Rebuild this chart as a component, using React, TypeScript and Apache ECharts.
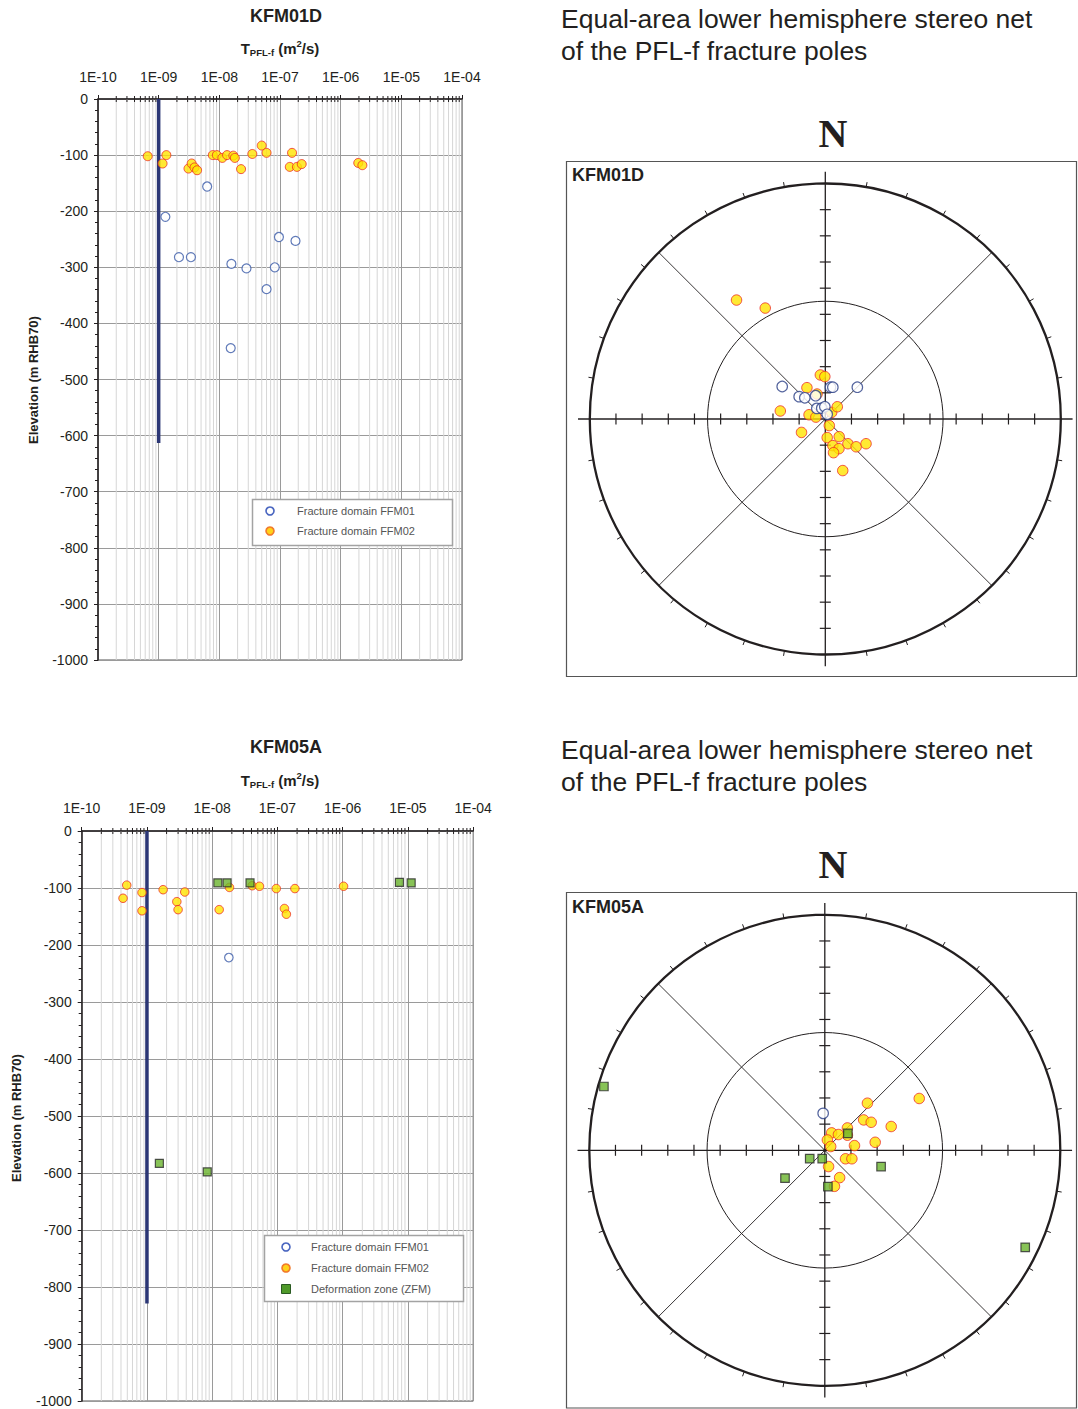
import React, { useEffect, useRef } from 'react';
import * as echarts from 'echarts';

const FONT = '"Liberation Sans", Arial, Helvetica, sans-serif';
const SERIF = '"Liberation Serif", "Times New Roman", serif';
const INK = '#231f20';

// ---------- Transmissivity (m2/s) vs elevation (m RHB70) ----------
const xTickLabels = ['1E-10', '1E-09', '1E-08', '1E-07', '1E-06', '1E-05', '1E-04'];

const kfm01dFFM01: [number, number][] = [
  [6.3e-9, -156], [1.29e-9, -210], [2.16e-9, -282], [3.4e-9, -282], [1.58e-8, -294],
  [2.8e-8, -302], [8.2e-8, -300], [9.6e-8, -246], [1.8e-7, -253], [6.0e-8, -339], [1.54e-8, -444],
];
const kfm01dFFM02: [number, number][] = [
  [6.6e-10, -102], [1.16e-9, -115], [1.34e-9, -100], [3.1e-9, -124], [3.5e-9, -115],
  [3.9e-9, -122], [4.3e-9, -127], [7.8e-9, -100], [9.1e-9, -100], [1.12e-8, -105],
  [1.34e-8, -100], [1.7e-8, -101], [1.8e-8, -105], [2.28e-8, -125], [3.5e-8, -98],
  [5.0e-8, -83], [6.0e-8, -96], [1.58e-7, -96], [1.45e-7, -121], [1.9e-7, -121],
  [2.28e-7, -116], [1.95e-6, -114], [2.28e-6, -118],
];
const kfm01dLimit: [number, number][] = [[1e-9, 0], [1e-9, -613]];

const kfm05aFFM01: [number, number][] = [[1.8e-8, -222]];
const kfm05aFFM02: [number, number][] = [
  [4.9e-10, -95], [4.3e-10, -118], [8.4e-10, -108], [8.4e-10, -140], [1.77e-9, -103],
  [2.87e-9, -124], [3.0e-9, -138], [3.8e-9, -107], [1.28e-8, -138], [1.84e-8, -99],
  [4.1e-8, -96], [5.3e-8, -97], [9.6e-8, -101], [1.28e-7, -136], [1.37e-7, -146],
  [1.85e-7, -101], [1.03e-6, -97],
];
const kfm05aZFM: [number, number][] = [
  [1.22e-8, -91], [1.69e-8, -91], [3.8e-8, -91], [7.4e-6, -90], [1.12e-5, -91],
  [1.55e-9, -583], [8.4e-9, -598],
];
const kfm05aLimit: [number, number][] = [[1e-9, 0], [1e-9, -829]];

// ---------- Stereonet poles (east, north) in units of the primitive radius ----------
const netKFM01D_FFM01: [number, number][] = [
  [-0.183, 0.138], [-0.111, 0.095], [-0.087, 0.090], [-0.041, 0.099], [0.022, 0.135],
  [0.032, 0.135], [0.136, 0.135], [-0.036, 0.045], [-0.015, 0.046], [-0.002, 0.052], [0.008, 0.020],
];
const netKFM01D_FFM02: [number, number][] = [
  [-0.377, 0.505], [-0.255, 0.471], [-0.021, 0.187], [-0.002, 0.180], [-0.078, 0.133],
  [-0.035, 0.106], [-0.191, 0.034], [-0.069, 0.018], [-0.040, 0.008], [0.027, 0.028],
  [0.051, 0.052], [0.017, -0.028], [-0.101, -0.057], [0.008, -0.079], [0.059, -0.075],
  [0.032, -0.113], [0.058, -0.126], [0.035, -0.143], [0.096, -0.105], [0.131, -0.118],
  [0.173, -0.105], [0.074, -0.219],
];
const netKFM05A_FFM01: [number, number][] = [[-0.007, 0.157]];
const netKFM05A_FFM02: [number, number][] = [
  [0.401, 0.220], [0.181, 0.200], [0.165, 0.129], [0.197, 0.119], [0.282, 0.101],
  [0.096, 0.095], [0.096, 0.064], [0.029, 0.074], [0.058, 0.067], [0.011, 0.044],
  [0.025, 0.016], [0.126, 0.020], [0.214, 0.034], [0.088, -0.036], [0.115, -0.036],
  [0.016, -0.069], [0.063, -0.116], [0.041, -0.153],
];
const netKFM05A_ZFM: [number, number][] = [
  [-0.938, 0.271], [0.851, -0.412], [0.098, 0.072], [-0.064, -0.035], [-0.011, -0.035],
  [-0.169, -0.118], [0.239, -0.069], [0.013, -0.154],
];

const legendNames = ['Fracture domain FFM01', 'Fracture domain FFM02', 'Deformation zone (ZFM)'];

// minor log grid values (2..9 x 10^n)
const minorVals: number[] = [];
for (let e = -10; e < -4; e++) for (let m = 2; m <= 9; m++) minorVals.push(m * Math.pow(10, e));

const ORANGE = { color: '#ffe400', borderColor: '#ec2d27', borderWidth: 1 };
const BLUE_LEFT = { color: '#ffffff', borderColor: '#3a5aa8', borderWidth: 1.2 };
const BLUE_NET = { color: '#ffffff', borderColor: '#2b3f86', borderWidth: 1.2 };
const GREEN = { color: '#6ab42d', borderColor: '#2a2a2a', borderWidth: 1.2 };

const NET_EXT = 1.06;

function logAxes(i: number, margin: number) {
  const xAxis = {
    type: 'log', logBase: 10, gridIndex: i, min: 1e-10, max: 1e-4, position: 'top',
    axisLine: { show: true, onZero: false, lineStyle: { color: INK, width: 1.5 } },
    axisTick: { show: true, length: 4, lineStyle: { color: INK } },
    axisLabel: {
      margin, fontSize: 14, color: INK, fontFamily: FONT,
      formatter: (v: number) => xTickLabels[Math.round(Math.log10(v)) + 10] || '',
    },
    splitLine: { show: true, lineStyle: { color: '#9a9a9a', width: 1 } },
  };
  const yAxis = {
    type: 'value', gridIndex: i, min: -1000, max: 0, interval: 100,
    axisLine: { show: true, onZero: false, lineStyle: { color: INK, width: 1.5 } },
    axisTick: { show: true, length: 4, lineStyle: { color: INK } },
    minorTick: { show: true, splitNumber: 5, length: 3, lineStyle: { color: INK } },
    axisLabel: { margin: 10, fontSize: 14, lineHeight: 13, color: INK, fontFamily: FONT, formatter: (v: number) => String(Math.round(v)) },
    splitLine: { show: true, lineStyle: { color: '#9a9a9a', width: 1 } },
  };
  return { xAxis, yAxis };
}

function netAxes(i: number) {
  return {
    xAxis: { type: 'value', gridIndex: i, min: -NET_EXT, max: NET_EXT, show: false },
    yAxis: { type: 'value', gridIndex: i, min: -NET_EXT, max: NET_EXT, show: false },
  };
}

function minorGridSeries(i: number) {
  return {
    type: 'custom', xAxisIndex: i, yAxisIndex: i, z: 1, silent: true, clip: false,
    data: minorVals.map((v) => [v, 0]),
    renderItem: (_p: any, api: any) => {
      const v = api.value(0);
      const top = api.coord([v, 0]);
      const bot = api.coord([v, -1000]);
      return {
        type: 'group',
        children: [
          { type: 'line', shape: { x1: top[0], y1: top[1], x2: bot[0], y2: bot[1] }, style: { stroke: '#d6d6d6', lineWidth: 1 } },
          { type: 'line', shape: { x1: top[0], y1: top[1] - 3, x2: top[0], y2: top[1] + 3 }, style: { stroke: INK, lineWidth: 1 } },
        ],
      };
    },
  };
}

function netSeries(i: number) {
  return {
    type: 'custom', xAxisIndex: i, yAxisIndex: i, z: 1, silent: true, clip: false,
    data: [[0, 0]],
    renderItem: (_p: any, api: any) => {
      const c = api.coord([0, 0]);
      const e = api.coord([1, 0]);
      const r = e[0] - c[0];
      const cx = c[0];
      const cy = c[1];
      const ch: any[] = [];
      const ln = (x1: number, y1: number, x2: number, y2: number, w: number) =>
        ch.push({ type: 'line', shape: { x1, y1, x2, y2 }, style: { stroke: INK, lineWidth: w } });
      ch.push({ type: 'circle', shape: { cx, cy, r }, style: { fill: 'none', stroke: INK, lineWidth: 2.3 } });
      ch.push({ type: 'circle', shape: { cx, cy, r: r * 0.5 }, style: { fill: 'none', stroke: INK, lineWidth: 1 } });
      const L = r * 1.05;
      ln(cx - L, cy, cx + L, cy, 1.3);
      ln(cx, cy - L, cx, cy + L, 1.3);
      const d = r * Math.SQRT1_2;
      ln(cx - d, cy - d, cx + d, cy + d, 0.9);
      ln(cx - d, cy + d, cx + d, cy - d, 0.9);
      for (let k = 1; k <= 8; k++) {
        const s = (k * r) / 9;
        for (const sg of [-1, 1]) {
          ln(cx + sg * s, cy - 5.5, cx + sg * s, cy + 5.5, 1.2);
          ln(cx - 5.5, cy + sg * s, cx + 5.5, cy + sg * s, 1.2);
        }
      }
      for (let deg = 10; deg < 360; deg += 10) {
        if (deg % 90 === 0) continue;
        const a = (deg * Math.PI) / 180;
        const sx = Math.sin(a);
        const cyy = Math.cos(a);
        ln(cx + r * sx, cy - r * cyy, cx + (r + 5) * sx, cy - (r + 5) * cyy, 1);
      }
      ch.push({ type: 'circle', shape: { cx, cy, r: 1.5 }, style: { fill: INK } });
      return { type: 'group', children: ch };
    },
  };
}

function scatter(i: number, data: [number, number][], style: any, size: number, symbol: string, z: number) {
  return {
    type: 'scatter', xAxisIndex: i, yAxisIndex: i, data, symbol, symbolSize: size,
    itemStyle: style, z, silent: true,
  };
}

function limitLine(i: number, data: [number, number][]) {
  return {
    type: 'line', xAxisIndex: i, yAxisIndex: i, data, symbol: 'none', silent: true, z: 2,
    lineStyle: { color: '#2b3675', width: 3.5 },
  };
}

function text(x: number, y: number, t: string, font: string, align = 'center', extra: any = {}) {
  return {
    type: 'text', x, y, z: 120, silent: true, ...extra,
    style: { text: t, font, fill: INK, align, verticalAlign: 'middle', textAlign: align, textVerticalAlign: 'middle' },
  };
}

function tLabel(x: number, y: number) {
  return {
    type: 'text', x, y, z: 120, silent: true,
    style: {
      text: '{t|T}{s|PFL-f}{t| (m}{p|2}{t|/s)}',
      align: 'center', verticalAlign: 'middle', textAlign: 'center', textVerticalAlign: 'middle',
      fill: INK,
      rich: {
        t: { fontSize: 15, fontWeight: 'bold', fontFamily: FONT, lineHeight: 19, fill: INK },
        s: { fontSize: 9.5, fontWeight: 'bold', fontFamily: FONT, lineHeight: 10, verticalAlign: 'bottom', fill: INK },
        p: { fontSize: 9.5, fontWeight: 'bold', fontFamily: FONT, lineHeight: 11, verticalAlign: 'top', fill: INK },
      },
    },
  };
}

function legendBox(x: number, y: number, w: number, rows: number, symX: number, txtX: number, rowY: number[]) {
  const items: any[] = [
    { type: 'rect', z: 110, silent: true, shape: { x, y, width: w, height: rows }, style: { fill: '#ffffff', stroke: '#a3a3a3', lineWidth: 1.5 } },
  ];
  rowY.forEach((ry, k) => {
    if (k === 0) items.push({ type: 'circle', z: 111, silent: true, shape: { cx: symX, cy: ry, r: 4 }, style: { fill: '#ffffff', stroke: '#4a66c0', lineWidth: 1.6 } });
    if (k === 1) items.push({ type: 'circle', z: 111, silent: true, shape: { cx: symX, cy: ry, r: 4 }, style: { fill: '#ffd21a', stroke: '#f27a2a', lineWidth: 1.6 } });
    if (k === 2) items.push({ type: 'rect', z: 111, silent: true, shape: { x: symX - 4.5, y: ry - 4.5, width: 9, height: 9 }, style: { fill: '#4f9a2a', stroke: '#2a5a22', lineWidth: 1 } });
    items.push({
      type: 'text', x: txtX, y: ry, z: 111, silent: true,
      style: { text: legendNames[k], font: `11px ${FONT}`, fill: '#555', align: 'left', verticalAlign: 'middle', textAlign: 'left', textVerticalAlign: 'middle' },
    });
  });
  return items;
}

export default function App() {
  const ref = useRef<HTMLDivElement>(null);
  useEffect(() => {
    if (!ref.current) return;
    const chart = echarts.init(ref.current, undefined, { renderer: 'svg' });
    const a0 = logAxes(0, 15);
    const a1 = logAxes(1, 16);
    const n2 = netAxes(2);
    const n3 = netAxes(3);
    const R1 = 235.5;
    const R2 = 235.5;
    const option: any = {
      animation: false,
      backgroundColor: '#ffffff',
      textStyle: { fontFamily: FONT },
      grid: [
        { left: 98, top: 99, width: 364, height: 561, show: true, borderColor: '#555', borderWidth: 1, backgroundColor: 'transparent', outerBoundsMode: 'none' },
        { left: 81.7, top: 831, width: 391.5, height: 570, show: true, borderColor: '#555', borderWidth: 1, backgroundColor: 'transparent', outerBoundsMode: 'none' },
        { left: 825.3 - NET_EXT * R1, top: 419 - NET_EXT * R1, width: 2 * NET_EXT * R1, height: 2 * NET_EXT * R1, show: false, outerBoundsMode: 'none' },
        { left: 824.8 - NET_EXT * R2, top: 1150.3 - NET_EXT * R2, width: 2 * NET_EXT * R2, height: 2 * NET_EXT * R2, show: false, outerBoundsMode: 'none' },
      ],
      xAxis: [a0.xAxis, a1.xAxis, n2.xAxis, n3.xAxis],
      yAxis: [a0.yAxis, a1.yAxis, n2.yAxis, n3.yAxis],
      series: [
        minorGridSeries(0),
        limitLine(0, kfm01dLimit),
        scatter(0, kfm01dFFM02, ORANGE, 9, 'circle', 3),
        scatter(0, kfm01dFFM01, BLUE_LEFT, 9, 'circle', 4),
        minorGridSeries(1),
        limitLine(1, kfm05aLimit),
        scatter(1, kfm05aFFM02, ORANGE, 8.5, 'circle', 3),
        scatter(1, kfm05aFFM01, BLUE_LEFT, 8.5, 'circle', 4),
        scatter(1, kfm05aZFM, GREEN, 8, 'rect', 5),
        netSeries(2),
        scatter(2, netKFM01D_FFM02, ORANGE, 10.5, 'circle', 3),
        scatter(2, netKFM01D_FFM01, BLUE_NET, 10.5, 'circle', 4),
        netSeries(3),
        scatter(3, netKFM05A_FFM02, ORANGE, 10.5, 'circle', 3),
        scatter(3, netKFM05A_FFM01, BLUE_NET, 10.5, 'circle', 4),
        scatter(3, netKFM05A_ZFM, GREEN, 8.5, 'rect', 5),
      ],
      graphic: [
        text(286, 16, 'KFM01D', `bold 18px ${FONT}`),
        tLabel(280, 48),
        text(286, 747, 'KFM05A', `bold 18px ${FONT}`),
        tLabel(280, 780),
        text(33, 380, 'Elevation (m RHB70)', `bold 13px ${FONT}`, 'center', { rotation: Math.PI / 2 }),
        text(16, 1118, 'Elevation (m RHB70)', `bold 13px ${FONT}`, 'center', { rotation: Math.PI / 2 }),
        text(561, 19, 'Equal-area lower hemisphere stereo net', `26.5px ${FONT}`, 'left'),
        text(561, 51, 'of the PFL-f fracture poles', `26.5px ${FONT}`, 'left'),
        text(561, 750, 'Equal-area lower hemisphere stereo net', `26.5px ${FONT}`, 'left'),
        text(561, 782, 'of the PFL-f fracture poles', `26.5px ${FONT}`, 'left'),
        text(833, 133, 'N', `bold 40px ${SERIF}`),
        text(833, 864, 'N', `bold 40px ${SERIF}`),
        { type: 'rect', z: 100, silent: true, shape: { x: 566.5, y: 161.5, width: 510, height: 515 }, style: { fill: 'none', stroke: '#555', lineWidth: 1.2 } },
        { type: 'rect', z: 100, silent: true, shape: { x: 566.5, y: 892.5, width: 510, height: 515.5 }, style: { fill: 'none', stroke: '#555', lineWidth: 1.2 } },
        text(572, 175, 'KFM01D', `bold 18px ${FONT}`, 'left'),
        text(572, 907, 'KFM05A', `bold 18px ${FONT}`, 'left'),
        ...legendBox(252.5, 499.5, 200, 46, 270, 297, [511, 531]),
        ...legendBox(264.5, 1235.5, 199, 66, 286, 311, [1247, 1268, 1289]),
      ],
    };
    chart.setOption(option);
    return () => chart.dispose();
  }, []);
  return (
    <div
      ref={ref}
      style={{ position: 'absolute', left: 0, top: 0, width: 1078, height: 1409, background: '#fff' }}
    />
  );
}
